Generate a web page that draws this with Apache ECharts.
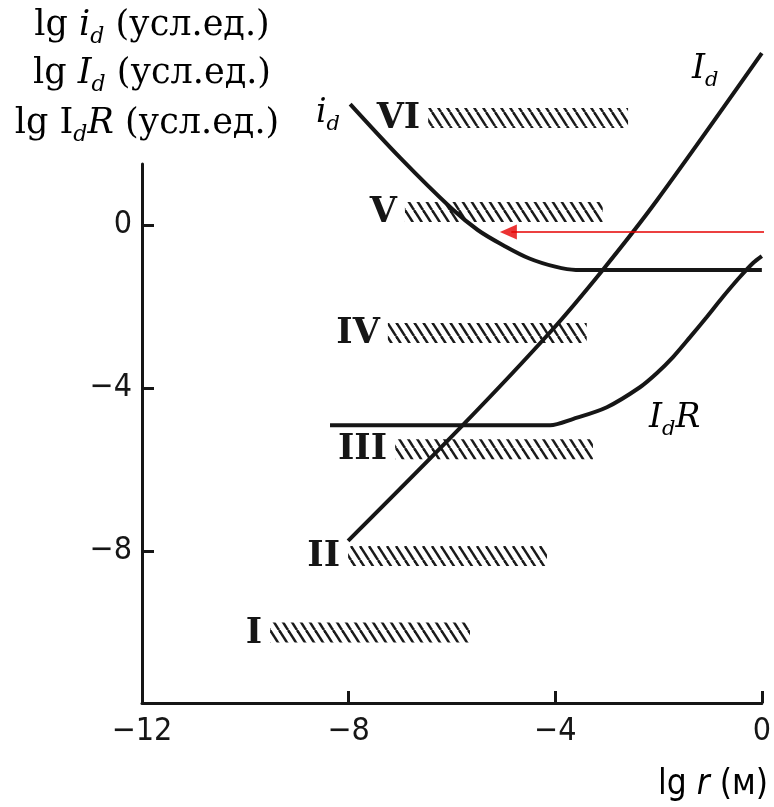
<!DOCTYPE html>
<html>
<head>
<meta charset="utf-8">
<script src="https://cdn.jsdelivr.net/npm/echarts@6/dist/echarts.min.js"></script>
<style>
html,body{margin:0;padding:0;background:#fff;}
#c{width:774px;height:807px;}
</style>
</head>
<body>
<div id="c"></div>
<script>
// ---- data ----
const xTicks = [-12, -8, -4, 0];
const yTicks = [0, -4, -8];

// small i_d curve
const idX = [-7.97, -7.0, -6.0, -5.5, -5.0, -4.5, -4.0, -3.6, 0];
const idY = [2.97, 1.65, 0.40, -0.12, -0.50, -0.82, -1.02, -1.10, -1.10];

// capital I_d curve
const IdX = [-8.01, -5.79, -4.10, -3.08, -2.03, 0];
const IdY = [-7.75, -4.91, -2.63, -1.10, 0.61, 4.22];

// I_d R curve
const IdRX = [-8.36, -4.10, -3.66, -3.00, -2.36, -2.03, -1.72, -1.39, -1.07, -0.76, -0.43, -0.17, 0];
const IdRY = [-4.91, -4.91, -4.76, -4.47, -3.98, -3.63, -3.24, -2.75, -2.26, -1.77, -1.28, -0.93, -0.76];

// hatched ranges
const hatchLabels = ['I', 'II', 'III', 'IV', 'V', 'VI'];
const hatchStart = [-9.52, -8.01, -7.10, -7.24, -6.91, -6.46];
const hatchEnd = [-5.65, -4.16, -3.27, -3.39, -3.08, -2.59];
const hatchLevel = [-10.0, -8.12, -5.50, -2.65, 0.32, 2.63];

// red arrow
const arrowX = [0.25, -4.85];
const arrowY = [-0.17, -0.17];
const arrowHead = [-4.907, -0.17];

// ---- helpers ----
const zip = (xs, ys) => xs.map((x, i) => [x, ys[i]]);
const hatchData = hatchLabels.map((l, i) => [hatchStart[i], hatchEnd[i], hatchLevel[i]]);

const pc = document.createElement('canvas');
pc.width = 9; pc.height = 14;
const g = pc.getContext('2d');
g.strokeStyle = '#1a1a1a';
g.lineWidth = 2.5;
[[-9, 0], [0, 0], [9, 0]].forEach(([ox, oy]) => {
  g.beginPath(); g.moveTo(ox, oy); g.lineTo(ox + 9, oy + 14); g.stroke();
});
const hatchFill = { image: pc, repeat: 'repeat' };

const SERIF = '"DejaVu Serif", "Liberation Serif", serif';
const SANS = '"DejaVu Sans Condensed", "Liberation Sans Narrow", "Noto Sans", sans-serif';
const INK = '#161616';
const minusFmt = v => v < 0 ? '\u2212' + Math.abs(v) : String(v);

function mkRich(fs) {
  return {
    n: { fontFamily: SERIF, fontSize: fs, lineHeight: 44, color: INK },
    i: { fontFamily: SERIF, fontSize: fs, fontStyle: 'italic', lineHeight: 44, color: INK },
    s: { fontFamily: SERIF, fontSize: Math.round(fs * 0.64), fontStyle: 'italic', lineHeight: 44, verticalAlign: 'bottom', color: INK }
  };
}
const richT = mkRich(35);
const richL = mkRich(33);
const richA = {
  n: { fontFamily: SANS, fontSize: 35, lineHeight: 40, color: INK },
  it: { fontFamily: SANS, fontSize: 35, fontStyle: 'italic', lineHeight: 40, color: INK }
};

function tx(text, x, y, align, rich) {
  return { type: 'text', x: x, y: y, z: 100,
    style: { text: text, rich: rich, align: align, verticalAlign: 'middle' } };
}

const chart = echarts.init(document.getElementById('c'), null, { renderer: 'canvas' });
chart.setOption({
  animation: false,
  backgroundColor: '#fff',
  grid: { left: 142, right: 12, top: 164, bottom: 104, containLabel: false },
  xAxis: {
    type: 'value', min: -12, max: 0,
    axisLine: { show: true, onZero: false, lineStyle: { color: INK, width: 3 } },
    axisTick: { show: true, inside: true, length: 12, lineStyle: { color: INK, width: 3 }, customValues: xTicks },
    axisLabel: { customValues: xTicks, formatter: minusFmt, color: INK, fontFamily: SANS, fontSize: 32, margin: 13 },
    splitLine: { show: false }
  },
  yAxis: {
    type: 'value', min: -11.73, max: 1.5,
    axisLine: { show: true, onZero: false, lineStyle: { color: INK, width: 3 } },
    axisTick: { show: true, inside: true, length: 12, lineStyle: { color: INK, width: 3 }, customValues: yTicks },
    axisLabel: { customValues: yTicks, formatter: minusFmt, color: INK, fontFamily: SANS, fontSize: 32, margin: 10 },
    splitLine: { show: false }
  },
  graphic: [
    tx('{n|lg }{i|i}{s|d}{n| (усл.ед.)}', 152, 26, 'center', richT),
    tx('{n|lg }{i|I}{s|d}{n| (усл.ед.)}', 152, 74, 'center', richT),
    tx('{n|lg I}{s|d}{i|R}{n| (усл.ед.)}', 147, 124, 'center', richT),
    tx('{i|i}{s|d}', 316, 113, 'left', richL),
    tx('{i|I}{s|d}', 692, 69, 'left', richL),
    tx('{i|I}{s|d}{i|R}', 649, 418, 'left', richL),
    tx('{n|lg }{it|r}{n| (м)}', 768, 785, 'right', richA)
  ],
  series: [
    {
      type: 'custom', clip: false, z: 1,
      data: hatchData,
      renderItem: function (params, api) {
        const p0 = api.coord([api.value(0), api.value(2)]);
        const p1 = api.coord([api.value(1), api.value(2)]);
        return {
          type: 'group',
          children: [
            { type: 'rect', shape: { x: p0[0], y: p0[1] - 10, width: p1[0] - p0[0], height: 20 },
              style: { fill: hatchFill } },
            { type: 'text', x: p0[0] - 8, y: p0[1] + 1,
              style: { text: hatchLabels[params.dataIndex], font: 'bold 35px ' + SERIF,
                       align: 'right', verticalAlign: 'middle', fill: INK } }
          ]
        };
      }
    },
    { type: 'line', data: zip(idX, idY), smooth: 0.35, clip: false, symbol: 'none',
      lineStyle: { color: INK, width: 4 }, z: 5 },
    { type: 'line', data: zip(IdX, IdY), smooth: 0.3, clip: false, symbol: 'none',
      lineStyle: { color: INK, width: 4 }, z: 5 },
    { type: 'line', data: zip(IdRX, IdRY), smooth: 0.3, clip: false, symbol: 'none',
      lineStyle: { color: INK, width: 4 }, z: 5 },
    { type: 'line', data: zip(arrowX, arrowY), clip: false, symbol: 'none',
      lineStyle: { color: '#e60000', width: 1.5 }, z: 10 },
    { type: 'scatter', data: [arrowHead], clip: false, symbol: 'triangle', symbolSize: [15, 17],
      symbolRotate: 90, itemStyle: { color: '#e60000' }, z: 11 }
  ]
});
</script>
</body>
</html>
